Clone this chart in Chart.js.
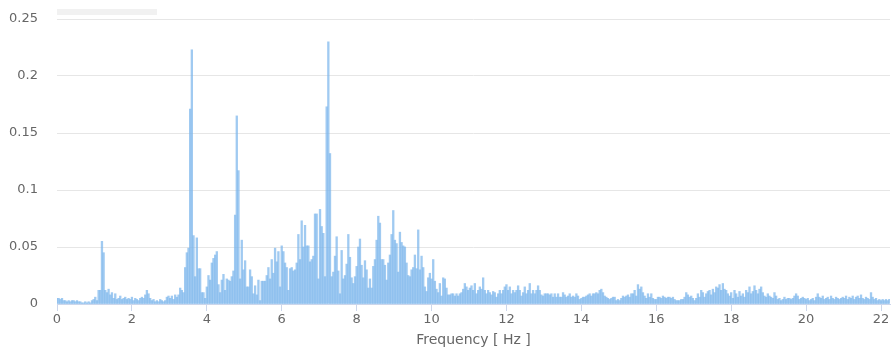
<!DOCTYPE html>
<html>
<head>
<meta charset="utf-8">
<script src="https://cdn.jsdelivr.net/npm/chart.js@4/dist/chart.umd.min.js"></script>
<style>
  html,body{margin:0;padding:0;background:#fff;}
  #wrap{position:relative;width:892px;height:347px;}
  #ph{position:absolute;left:57px;top:9px;width:100px;height:6px;background:#f1f1f1;}
</style>
</head>
<body>
<div id="wrap">
<canvas id="c" width="892" height="347"></canvas>
<div id="ph"></div>
</div>
<script>
// Spectrum amplitude, bins of FREQ_STEP Hz starting at 0 Hz
const FREQ_STEP = 0.044444;
const ampBand0 = [ // 0 - 4.4 Hz
0.005,0.005,0.004,0.005,0.003,0.003,0.002,0.003,0.002,0.003,
0.003,0.002,0.003,0.002,0.002,0.001,0.001,0.002,0.001,0.002,
0.001,0.003,0.004,0.006,0.003,0.012,0.012,0.055,0.045,0.012,
0.010,0.013,0.008,0.010,0.005,0.009,0.004,0.005,0.007,0.004,
0.005,0.006,0.004,0.005,0.004,0.006,0.003,0.005,0.004,0.003,
0.005,0.006,0.005,0.008,0.012,0.009,0.005,0.003,0.004,0.002,
0.003,0.002,0.004,0.003,0.002,0.003,0.006,0.007,0.005,0.007,
0.004,0.008,0.006,0.008,0.014,0.012,0.010,0.032,0.045,0.049,
0.171,0.223,0.060,0.024,0.058,0.031,0.031,0.010,0.010,0.005,
0.015,0.025,0.021,0.036,0.040,0.043,0.046,0.017,0.010,0.021];
const ampBand1 = [ // 4.4 - 8.9 Hz
0.026,0.012,0.022,0.021,0.020,0.024,0.029,0.078,0.165,0.117,
0.022,0.056,0.030,0.038,0.015,0.015,0.030,0.024,0.009,0.016,
0.008,0.021,0.003,0.020,0.020,0.020,0.025,0.032,0.022,0.039,
0.027,0.049,0.037,0.046,0.015,0.051,0.046,0.036,0.032,0.012,
0.031,0.032,0.029,0.030,0.036,0.061,0.039,0.073,0.050,0.069,
0.051,0.051,0.037,0.039,0.042,0.079,0.079,0.022,0.083,0.068,
0.062,0.024,0.173,0.230,0.132,0.024,0.028,0.042,0.059,0.029,
0.009,0.047,0.022,0.025,0.035,0.061,0.041,0.023,0.018,0.024,
0.033,0.050,0.057,0.034,0.023,0.038,0.030,0.014,0.022,0.014,
0.033,0.039,0.056,0.077,0.071,0.039,0.039,0.034,0.021,0.036];
const ampBand2 = [ // 8.9 - 13.3 Hz
0.043,0.061,0.082,0.056,0.053,0.028,0.063,0.054,0.051,0.050,
0.036,0.025,0.024,0.030,0.032,0.043,0.031,0.065,0.030,0.042,
0.032,0.015,0.011,0.023,0.027,0.022,0.039,0.020,0.013,0.010,
0.018,0.007,0.023,0.022,0.014,0.008,0.008,0.009,0.009,0.007,
0.009,0.007,0.009,0.010,0.013,0.018,0.015,0.012,0.014,0.016,
0.012,0.018,0.009,0.012,0.015,0.013,0.023,0.012,0.009,0.012,
0.010,0.008,0.011,0.010,0.006,0.009,0.012,0.009,0.012,0.015,
0.017,0.012,0.015,0.009,0.012,0.010,0.012,0.016,0.012,0.007,
0.010,0.015,0.009,0.012,0.018,0.009,0.012,0.009,0.012,0.016,
0.012,0.008,0.007,0.009,0.009,0.009,0.008,0.009,0.006,0.009];
const ampBand3 = [ // 13.3 - 17.8 Hz
0.006,0.009,0.006,0.006,0.010,0.008,0.006,0.007,0.009,0.006,
0.007,0.006,0.009,0.007,0.004,0.005,0.006,0.006,0.007,0.008,
0.009,0.007,0.009,0.009,0.010,0.009,0.012,0.013,0.010,0.007,
0.006,0.005,0.004,0.005,0.006,0.006,0.003,0.004,0.003,0.005,
0.007,0.006,0.007,0.008,0.006,0.009,0.009,0.012,0.007,0.017,
0.013,0.015,0.010,0.007,0.005,0.009,0.006,0.009,0.005,0.004,
0.004,0.006,0.006,0.005,0.007,0.006,0.005,0.006,0.006,0.005,
0.006,0.004,0.003,0.003,0.003,0.004,0.004,0.006,0.010,0.008,
0.006,0.007,0.005,0.003,0.005,0.009,0.006,0.012,0.010,0.006,
0.009,0.011,0.012,0.008,0.013,0.010,0.015,0.014,0.017,0.012];
const ampBand4 = [ // 17.8 - 22.2 Hz
0.018,0.013,0.012,0.009,0.007,0.010,0.005,0.012,0.009,0.006,
0.011,0.007,0.009,0.006,0.012,0.010,0.015,0.009,0.011,0.016,
0.012,0.009,0.013,0.015,0.010,0.007,0.006,0.009,0.007,0.006,
0.005,0.010,0.007,0.004,0.005,0.003,0.004,0.006,0.004,0.005,
0.005,0.004,0.005,0.007,0.009,0.007,0.004,0.005,0.006,0.005,
0.004,0.005,0.003,0.004,0.005,0.003,0.006,0.009,0.006,0.005,
0.007,0.004,0.005,0.006,0.004,0.007,0.005,0.004,0.006,0.005,
0.004,0.005,0.006,0.005,0.007,0.004,0.006,0.005,0.007,0.004,
0.006,0.007,0.005,0.008,0.005,0.004,0.006,0.005,0.004,0.010,
0.006,0.004,0.005,0.003,0.004,0.003,0.004,0.003,0.004,0.003,0.004];
const xTickValues = [0,2,4,6,8,10,12,14,16,18,20,22];
const yTickValues = [0,0.05,0.1,0.15,0.2,0.25];

const amplitudes = [].concat(ampBand0, ampBand1, ampBand2, ampBand3, ampBand4);
const points = amplitudes.map((v, i) => ({x: i * FREQ_STEP, y: v}));

new Chart(document.getElementById('c'), {
  type: 'bar',
  data: {
    datasets: [{
      data: points,
      backgroundColor: 'rgba(124,181,236,0.72)',
      borderWidth: 0,
      categoryPercentage: 1,
      barPercentage: 1
    }]
  },
  options: {
    responsive: false,
    devicePixelRatio: 1,
    animation: false,
    layout: {padding: {top: 19, right: 2, left: 0, bottom: 0}, autoPadding: false},
    plugins: {legend: {display: false}, tooltip: {enabled: false}},
    scales: {
      x: {
        type: 'linear',
        min: 0,
        max: 22.24,
        offset: false,
        afterBuildTicks: s => { s.ticks = xTickValues.map(v => ({value: v})); },
        afterFit: s => { s.height = 43; s.paddingLeft = 0; s.paddingRight = 0; },
        grid: {display: true, drawOnChartArea: false, drawTicks: true, tickLength: 7, color: '#ccd6eb', offset: false},
        border: {display: true, color: '#ccd6eb', width: 1},
        ticks: {
          color: '#666666',
          font: {family: 'DejaVu Sans', size: 13},
          padding: 1,
          maxRotation: 0,
          includeBounds: false,
          callback: v => String(v)
        },
        title: {
          display: true,
          text: 'Frequency [ Hz ]',
          color: '#666666',
          font: {family: 'DejaVu Sans', size: 14, lineHeight: 1},
          padding: {top: 0, bottom: 0}
        }
      },
      y: {
        min: 0,
        max: 0.25,
        afterBuildTicks: s => { s.ticks = yTickValues.map(v => ({value: v})); },
        afterFit: s => { s.width = 57; s.paddingTop = 0; s.paddingBottom = 0; },
        grid: {color: '#e6e6e6', lineWidth: 1, drawTicks: false},
        border: {display: false},
        ticks: {
          color: '#666666',
          font: {family: 'DejaVu Sans', size: 13},
          padding: 19,
          callback: v => String(+v.toFixed(2))
        }
      }
    }
  }
});
</script>
</body>
</html>
